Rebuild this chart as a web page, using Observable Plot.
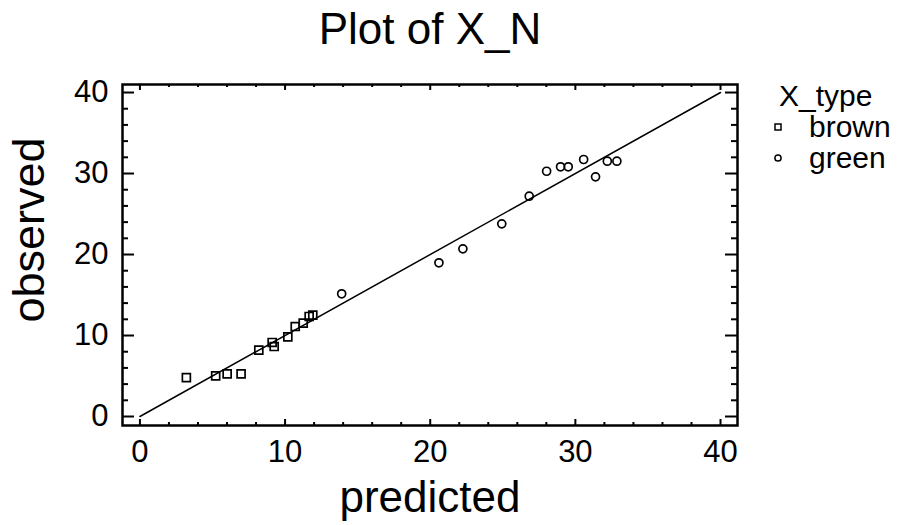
<!DOCTYPE html>
<html>
<head>
<meta charset="utf-8">
<script src="https://cdn.jsdelivr.net/npm/d3@7"></script>
<script src="https://cdn.jsdelivr.net/npm/@observablehq/plot@0.6"></script>
<style>
  html, body { margin: 0; padding: 0; background: #fff; }
  #chart svg { display: block; font-family: "Liberation Sans", Arial, sans-serif; }
</style>
</head>
<body>
<div id="chart"></div>
<script>
// Data
const brownPredicted = [3.20, 5.22, 6.01, 6.97, 8.19, 9.11, 9.25, 10.19, 10.70, 11.25, 11.66, 11.91];
const brownObserved  = [4.81, 5.02, 5.27, 5.27, 8.19, 9.14, 8.64, 9.84, 11.11, 11.52, 12.35, 12.51];
const greenPredicted = [13.9, 20.6, 22.25, 24.93, 26.82, 28.02, 28.98, 29.51, 30.57, 31.39, 32.2, 32.86];
const greenObserved  = [15.15, 18.98, 20.7, 23.79, 27.2, 30.28, 30.83, 30.83, 31.73, 29.59, 31.52, 31.52];
const majorTicks = [0, 10, 20, 30, 40];
const minorTicks = [2, 4, 6, 8, 12, 14, 16, 18, 22, 24, 26, 28, 32, 34, 36, 38];
const identityEnds = [0, 40];
const titleText = "Plot of X_N";
const xLabel = "predicted";
const yLabel = "observed";
const legendTitle = "X_type";
const legendItems = ["brown", "green"];

const brown = brownPredicted.map((p, i) => ({predicted: p, observed: brownObserved[i]}));
const green = greenPredicted.map((p, i) => ({predicted: p, observed: greenObserved[i]}));

const W = 899, H = 525;
const mL = 122, mR = 162, mT = 84, mB = 100;
const fw = W - mL - mR, fh = H - mT - mB;

const chart = Plot.plot({
  width: W, height: H,
  marginLeft: mL, marginRight: mR, marginTop: mT, marginBottom: mB,
  style: {fontFamily: '"Liberation Sans", Arial, sans-serif', color: "black", background: "white"},
  x: {domain: [-1.2, 41.17], label: null},
  y: {domain: [-1.11, 40.99], label: null},
  marks: [
    Plot.axisX({ticks: majorTicks, tickSize: 0, tickPadding: 14, fontSize: 31, tickFormat: d => String(d), label: null}),
    Plot.axisY({ticks: majorTicks, tickSize: 0, tickPadding: 14, fontSize: 31, tickFormat: d => String(d), label: null}),
    // inward tick marks on all four sides
    Plot.ruleX(majorTicks, {x: d => d, insetTop: fh - 6, strokeWidth: 2}),
    Plot.ruleX(majorTicks, {x: d => d, insetBottom: fh - 6, strokeWidth: 2}),
    Plot.ruleX(minorTicks, {x: d => d, insetTop: fh - 3, strokeWidth: 2}),
    Plot.ruleX(minorTicks, {x: d => d, insetBottom: fh - 3, strokeWidth: 2}),
    Plot.ruleY(majorTicks, {y: d => d, insetRight: fw - 12, strokeWidth: 2}),
    Plot.ruleY(majorTicks, {y: d => d, insetLeft: fw - 12, strokeWidth: 2}),
    Plot.ruleY(minorTicks, {y: d => d, insetRight: fw - 6, strokeWidth: 2}),
    Plot.ruleY(minorTicks, {y: d => d, insetLeft: fw - 6, strokeWidth: 2}),
    Plot.frame({stroke: "black", strokeWidth: 2.5}),
    Plot.line(identityEnds, {x: d => d, y: d => d, stroke: "black", strokeWidth: 1.5}),
    Plot.dot(brown, {x: "predicted", y: "observed", symbol: "square", r: 4.5, stroke: "black", strokeWidth: 1.7, fill: "none"}),
    Plot.dot(green, {x: "predicted", y: "observed", symbol: "circle", r: 4, stroke: "black", strokeWidth: 1.7, fill: "none"}),
    Plot.text([titleText], {frameAnchor: "top", dy: -mT + 43, lineAnchor: "bottom", fontSize: 44, fill: "black"}),
    Plot.text([xLabel], {frameAnchor: "bottom", dy: 86, lineAnchor: "bottom", fontSize: 44, fill: "black"})
  ]
});

const svg = d3.select(chart);
// rotated y-axis label
svg.append("text")
  .attr("transform", `translate(44,230) rotate(-90)`)
  .attr("text-anchor", "middle")
  .style("font-size", "45px")
  .attr("fill", "black")
  .text(yLabel);

// legend
const lg = svg.append("g")
  .attr("text-anchor", "start")
  .style("font-size", "30px")
  .attr("fill", "black");
lg.append("text").attr("x", 779).attr("y", 106).text(legendTitle);
const rows = [{y: 137, sym: d3.symbolSquare}, {y: 168, sym: d3.symbolCircle}];
legendItems.forEach((name, i) => {
  const r = rows[i];
  lg.append("path")
    .attr("d", d3.symbol(r.sym, i === 0 ? 36 : 30)())
    .attr("transform", `translate(778,${r.y - 10})`)
    .attr("fill", "none").attr("stroke", "black").attr("stroke-width", 1.5);
  lg.append("text").attr("x", 809).attr("y", r.y).text(name);
});

document.getElementById("chart").appendChild(chart);
</script>
</body>
</html>
